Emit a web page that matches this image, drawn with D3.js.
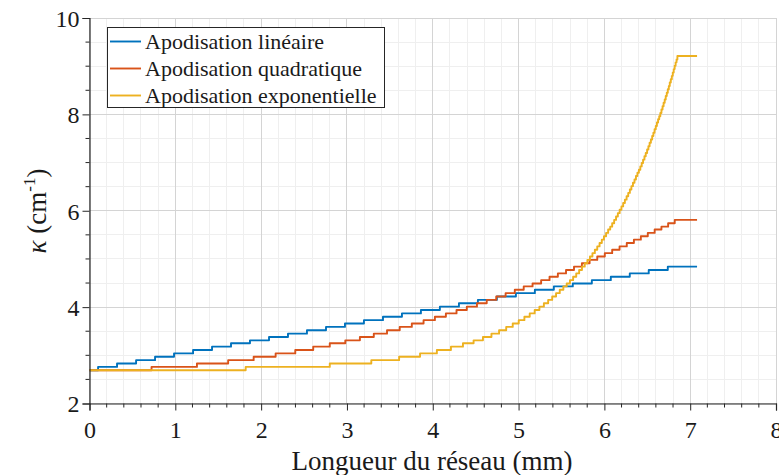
<!DOCTYPE html>
<html>
<head>
<meta charset="utf-8">
<script src="https://cdn.jsdelivr.net/npm/d3@7"></script>
<style>
  html, body { margin: 0; padding: 0; background: #fff; }
  svg { display: block; font-family: "Liberation Serif", "Times New Roman", serif; }
</style>
</head>
<body>
<svg id="chart" width="779" height="475"></svg>
<script>
// ---------------- data ----------------
const seriesNames = ["Apodisation linéaire", "Apodisation quadratique", "Apodisation exponentielle"];
const seriesColors = ["#0072BD", "#D95319", "#EDB120"];

// Linear apodization: step positions (mm) and kappa levels (cm^-1)
const linX = [0, 0.100, 0.321, 0.543, 0.764, 0.985, 1.207, 1.428, 1.649, 1.870, 2.092, 2.313, 2.534, 2.756, 2.977, 3.198, 3.420, 3.641, 3.862, 4.083, 4.305, 4.526, 4.747, 4.969, 5.190, 5.411, 5.632, 5.854, 6.075, 6.296, 6.517, 6.739, 7.08];
const linK = [2.69, 2.76, 2.83, 2.90, 2.97, 3.04, 3.11, 3.18, 3.25, 3.31, 3.38, 3.45, 3.52, 3.59, 3.66, 3.73, 3.80, 3.87, 3.94, 4.01, 4.08, 4.15, 4.22, 4.29, 4.36, 4.43, 4.49, 4.56, 4.63, 4.70, 4.77, 4.84, 4.84];

// Quadratic apodization
const quadX = [0, 0.723, 1.252, 1.616, 1.913, 2.169, 2.398, 2.607, 2.800, 2.981, 3.151, 3.313, 3.467, 3.615, 3.756, 3.893, 4.025, 4.153, 4.277, 4.397, 4.515, 4.629, 4.740, 4.849, 4.956, 5.060, 5.163, 5.263, 5.361, 5.458, 5.553, 5.646, 5.738, 5.828, 5.917, 6.005, 6.091, 6.177, 6.261, 6.344, 6.425, 6.506, 6.586, 6.665, 6.743, 6.820, 7.08];
const quadK = [2.69, 2.76, 2.83, 2.90, 2.97, 3.04, 3.11, 3.18, 3.25, 3.31, 3.38, 3.45, 3.52, 3.59, 3.66, 3.73, 3.80, 3.87, 3.94, 4.01, 4.08, 4.15, 4.22, 4.29, 4.36, 4.43, 4.49, 4.56, 4.63, 4.70, 4.77, 4.84, 4.91, 4.98, 5.05, 5.12, 5.19, 5.26, 5.33, 5.40, 5.47, 5.54, 5.61, 5.67, 5.74, 5.81, 5.81];

// Exponential apodization
const expX = [0, 1.820, 2.800, 3.284, 3.608, 3.852, 4.048, 4.212, 4.352, 4.476, 4.585,
  4.684, 4.773, 4.856, 4.932, 5.002, 5.068, 5.130, 5.188, 5.243, 5.295,
  5.345, 5.392, 5.437, 5.480, 5.522, 5.561, 5.599, 5.636, 5.672, 5.706,
  5.739, 5.771, 5.802, 5.832, 5.861, 5.889, 5.917, 5.944, 5.970, 5.995,
  6.020, 6.044, 6.068, 6.091, 6.114, 6.136, 6.157, 6.178, 6.199, 6.219,
  6.239, 6.259, 6.278, 6.297, 6.315, 6.333, 6.351, 6.368, 6.385, 6.402,
  6.419, 6.435, 6.451, 6.467, 6.482, 6.498, 6.513, 6.527, 6.542, 6.557,
  6.571, 6.585, 6.599, 6.612, 6.626, 6.639, 6.652, 6.665, 6.678, 6.690,
  6.703, 6.715, 6.727, 6.739, 6.751, 6.762, 6.774, 6.786, 6.797, 6.808,
  6.819, 6.830, 6.841, 6.851, 7.08];
const expK = [2.69, 2.76, 2.83, 2.90, 2.97, 3.04, 3.11, 3.18, 3.25, 3.31, 3.38,
  3.45, 3.52, 3.59, 3.66, 3.73, 3.80, 3.87, 3.94, 4.01, 4.08,
  4.15, 4.22, 4.29, 4.36, 4.43, 4.49, 4.56, 4.63, 4.70, 4.77,
  4.84, 4.91, 4.98, 5.05, 5.12, 5.19, 5.26, 5.33, 5.40, 5.47,
  5.54, 5.61, 5.67, 5.74, 5.81, 5.88, 5.95, 6.02, 6.09, 6.16,
  6.23, 6.30, 6.37, 6.44, 6.51, 6.58, 6.65, 6.72, 6.79, 6.85,
  6.92, 6.99, 7.06, 7.13, 7.20, 7.27, 7.34, 7.41, 7.48, 7.55,
  7.62, 7.69, 7.76, 7.83, 7.90, 7.96, 8.03, 8.10, 8.17, 8.24,
  8.31, 8.38, 8.45, 8.52, 8.59, 8.66, 8.73, 8.80, 8.87, 8.94,
  9.01, 9.08, 9.14, 9.21, 9.21];

const xTicks = [0, 1, 2, 3, 4, 5, 6, 7, 8];
const yTicks = [2, 4, 6, 8, 10];
const xLabel = "Longueur du réseau (mm)";

// ---------------- layout ----------------
const svg = d3.select("#chart");
const x = d3.scaleLinear().domain([0, 8]).range([89.5, 776]);
const y = d3.scaleLinear().domain([2, 10]).range([403.5, 18]);

const xMinor = d3.range(0, 8.0001, 0.2).map(v => +v.toFixed(2));
const yMinor = d3.range(2, 10.0001, 0.5).map(v => +v.toFixed(2));

// grid
const grid = svg.append("g");
grid.selectAll(".xmin").data(xMinor.filter(v => !xTicks.includes(v))).join("line")
  .attr("x1", d => x(d)).attr("x2", d => x(d)).attr("y1", y(2)).attr("y2", y(10))
  .attr("stroke", "#efefef").attr("stroke-width", 1).attr("shape-rendering", "crispEdges");
grid.selectAll(".ymin").data(yMinor.filter(v => !yTicks.includes(v))).join("line")
  .attr("x1", x(0)).attr("x2", x(8)).attr("y1", d => y(d)).attr("y2", d => y(d))
  .attr("stroke", "#efefef").attr("stroke-width", 1).attr("shape-rendering", "crispEdges");
grid.selectAll(".xmaj").data(xTicks).join("line")
  .attr("x1", d => x(d)).attr("x2", d => x(d)).attr("y1", y(2)).attr("y2", y(10))
  .attr("stroke", "#d4d4d4").attr("stroke-width", 1).attr("shape-rendering", "crispEdges");
grid.selectAll(".ymaj").data(yTicks).join("line")
  .attr("x1", x(0)).attr("x2", x(8)).attr("y1", d => y(d)).attr("y2", d => y(d))
  .attr("stroke", "#d4d4d4").attr("stroke-width", 1).attr("shape-rendering", "crispEdges");

// lines
const series = [
  {xs: linX, ks: linK},
  {xs: quadX, ks: quadK},
  {xs: expX, ks: expK}
];
const line = d3.line().x(d => x(d[0])).y(d => y(d[1])).curve(d3.curveStepAfter);
series.forEach((s, i) => {
  const pts = s.xs.map((v, j) => [v, s.ks[j]]);
  svg.append("path").datum(pts)
    .attr("fill", "none").attr("stroke", seriesColors[i])
    .attr("stroke-width", 1.9).attr("stroke-linejoin", "round")
    .attr("d", line);
});

// axes
const axisColor = "#262626";
const xAxis = svg.append("g").attr("transform", `translate(0,${y(2)})`)
  .call(d3.axisBottom(x).tickValues(xTicks).tickSize(7).tickPadding(10).tickFormat(d3.format("d")));
const yAxis = svg.append("g").attr("transform", `translate(${x(0)},0)`)
  .call(d3.axisLeft(y).tickValues(yTicks).tickSize(7).tickPadding(3).tickFormat(d3.format("d")));
[xAxis, yAxis].forEach(a => {
  a.select(".domain").attr("stroke", axisColor).attr("stroke-width", 1.2);
  a.selectAll(".tick line").attr("stroke", axisColor);
  a.selectAll(".tick text").attr("fill", "#1a1a1a")
    .style("font-family", '"Liberation Serif", serif').style("font-size", "24px");
});
yAxis.selectAll(".tick text").attr("dy", "0.35em");
// minor ticks
svg.append("g").selectAll("line").data(xMinor.filter(v => !xTicks.includes(v))).join("line")
  .attr("x1", d => x(d)).attr("x2", d => x(d)).attr("y1", y(2)).attr("y2", y(2) + 4)
  .attr("stroke", axisColor);
svg.append("g").selectAll("line").data(yMinor.filter(v => !yTicks.includes(v))).join("line")
  .attr("y1", d => y(d)).attr("y2", d => y(d)).attr("x1", x(0)).attr("x2", x(0) - 4)
  .attr("stroke", axisColor);

// axis labels
svg.append("text").attr("x", 432).attr("y", 470)
  .attr("text-anchor", "middle").attr("fill", "#1a1a1a")
  .style("font-size", "27px").text(xLabel);
const yl = svg.append("text").attr("transform", "translate(46,211) rotate(-90)")
  .attr("text-anchor", "middle").attr("fill", "#1a1a1a").style("font-size", "27px");
yl.append("tspan").style("font-style", "italic").text("κ");
yl.append("tspan").text(" (cm");
yl.append("tspan").attr("dy", -11).style("font-size", "17px").text("-1");
yl.append("tspan").attr("dy", 11).text(")");

// legend
const lg = svg.append("g");
lg.append("rect").attr("x", 107.5).attr("y", 27.5).attr("width", 277).attr("height", 80)
  .attr("fill", "#fff").attr("stroke", "#262626").attr("stroke-width", 1);
seriesNames.forEach((n, i) => {
  const yy = 41.5 + i * 27;
  lg.append("line").attr("x1", 110).attr("x2", 141).attr("y1", yy).attr("y2", yy)
    .attr("stroke", seriesColors[i]).attr("stroke-width", 1.9);
  lg.append("text").attr("x", 145).attr("y", yy + 7).attr("fill", "#1a1a1a")
    .style("font-size", "22px").text(n);
});
</script>
</body>
</html>
